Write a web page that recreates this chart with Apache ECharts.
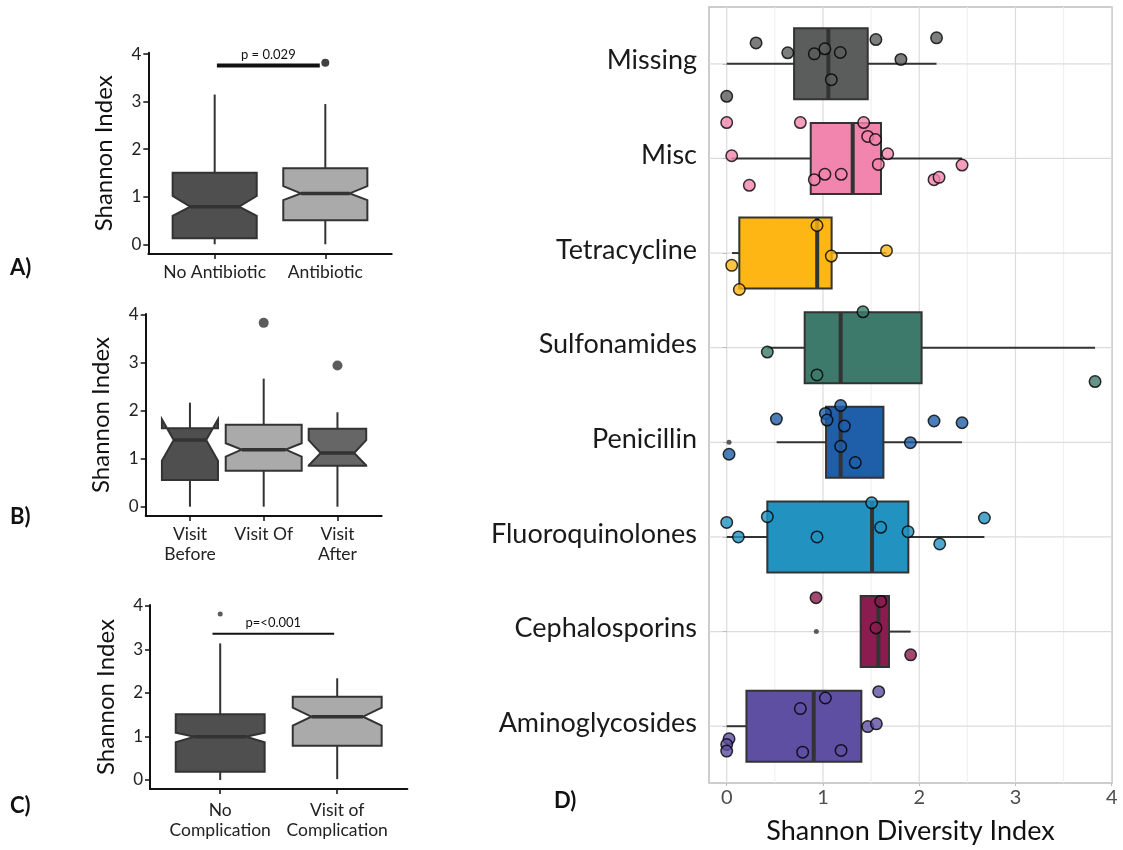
<!DOCTYPE html>
<html><head><meta charset="utf-8">
<script src="https://cdn.jsdelivr.net/npm/echarts@6/dist/echarts.min.js"></script>
<style>html,body{margin:0;padding:0;background:#fff}#c{width:1123px;height:850px}</style>
</head><body><div id="c"></div>
<script>
// ---------- Panel A ----------
const catsA = ['No Antibiotic', 'Antibiotic'];
// [whiskerLow, q1, notchLow, median, notchHigh, q3, whiskerHigh]
const boxA = [
  [0, 0.126, 0.60, 0.79, 1.015, 1.504, 3.15],
  [0, 0.504, 0.93, 1.07, 1.225, 1.597, 2.95]
];
const outA = [[2, 3.82]];
const sigA = [[1.02, 1.95, 3.76, 'p = 0.029']];

// ---------- Panel B ----------
const catsB = ['Visit\nBefore', 'Visit Of', 'Visit\nAfter'];
const boxB = [
  [0, 0.557, 0.96, 1.392, 1.824, 1.637, 2.17],
  [0, 0.752, 1.044, 1.19, 1.323, 1.712, 2.672],
  [0, 0.856, 0.86, 1.12, 1.39, 1.628, 1.97]
];
const outB = [[2, 3.835], [3, 2.944]];

// ---------- Panel C ----------
const catsC = ['No\nComplication', 'Visit of\nComplication'];
const boxC = [
  [0, 0.192, 0.866, 0.996, 1.087, 1.51, 3.14],
  [0.02, 0.789, 1.249, 1.456, 1.663, 1.915, 2.338]
];
const outC = [[1, 3.816]];
const sigC = [[0.934, 1.974, 3.363, 'p=<0.001']];

const yTicksABC = [0, 1, 2, 3, 4];

// ---------- Panel D ----------
const catsD = ['Missing', 'Misc', 'Tetracycline', 'Sulfonamides', 'Penicillin', 'Fluoroquinolones', 'Cephalosporins', 'Aminoglycosides'];
// [whiskerLow, q1, median, q3, whiskerHigh]
const statsD = [
  [0.0, 0.70, 1.056, 1.465, 2.18],
  [0.05, 0.873, 1.309, 1.603, 2.445],
  [0.055, 0.131, 0.94, 1.09, 1.66],
  [0.422, 0.81, 1.184, 2.025, 3.827],
  [0.519, 1.032, 1.184, 1.628, 2.445],
  [0.0, 0.422, 1.51, 1.887, 2.677],
  [1.392, 1.392, 1.576, 1.686, 1.911],
  [0.0, 0.205, 0.904, 1.399, 1.399]
];
const outD = [[5, 0.024], [7, 0.931]];
// observed values per category and their vertical jitter (category units)
const ptsD = [
  [0.305, 0.634, 0.91, 1.02, 1.18, 1.087, 1.55, 1.81, 2.18, 0.0],
  [0.0, 0.052, 0.235, 0.765, 0.91, 1.02, 1.19, 1.423, 1.465, 1.545, 1.673, 1.575, 2.154, 2.206, 2.445],
  [0.938, 1.087, 1.66, 0.052, 0.131],
  [1.416, 0.422, 0.938, 3.827],
  [0.516, 1.025, 1.042, 1.184, 1.222, 1.184, 1.336, 1.908, 2.154, 2.445, 0.024],
  [0.0, 0.121, 0.422, 0.938, 1.506, 1.6, 1.884, 2.213, 2.677],
  [0.928, 1.6, 1.551, 1.911],
  [1.579, 1.025, 0.765, 1.465, 1.555, 0.024, 0.0, 0.0, 0.789, 1.188]
];
const jitD = [
  [-0.22, -0.116, -0.105, -0.158, -0.119, 0.168, -0.256, -0.046, -0.274, 0.344],
  [-0.379, -0.028, 0.284, -0.379, 0.225, 0.168, 0.168, -0.379, -0.232, -0.2, -0.049, 0.063, 0.225, 0.2, 0.07],
  [-0.291, 0.032, -0.025, 0.13, 0.385],
  [-0.379, 0.046, 0.288, 0.358],
  [-0.246, -0.305, -0.235, -0.389, -0.172, 0.042, 0.214, 0.004, -0.225, -0.207, 0.126],
  [-0.154, 0.0, -0.214, 0.0, -0.361, -0.102, -0.056, 0.074, -0.2],
  [-0.358, -0.319, -0.039, 0.246],
  [-0.365, -0.298, -0.186, 0.004, -0.025, 0.133, 0.193, 0.263, 0.274, 0.256]
];
const xTicksD = [0, 1, 2, 3, 4];
const xMinorD = [0.5, 1.5, 2.5, 3.5];

// ---------- styles ----------
const FONT = 'Lato';
const colorsA = ['#4f4f4f', '#aaaaaa'];
const colorsB = ['#4f4f4f', '#aaaaaa', '#666666'];
const colorsC = ['#4f4f4f', '#aaaaaa'];
const widthsA = [0.76, 0.76];
const widthsB = [0.76, 1.03, 0.78];
const widthsC = [0.76, 0.76];
const colorsD = ['#5b5d5c', '#f285ad', '#fdb614', '#3e7a6b', '#1f5ea8', '#2292c1', '#8b1c4f', '#5e4fa2'];
const EDGE = '#333333';

function notchSeries(idx, boxes, colors, widths) {
  return {
    type: 'custom', xAxisIndex: idx, yAxisIndex: idx, z: 2,
    encode: { x: 0, y: [1, 2, 3, 4, 5, 6, 7] },
    data: boxes.map((b, i) => [i + 1].concat(b)),
    renderItem: function (params, api) {
      const i = api.value(0);
      const wl = api.value(1), q1 = api.value(2), nl = api.value(3), md = api.value(4),
            nh = api.value(5), q3 = api.value(6), wh = api.value(7);
      const hw = widths[params.dataIndex] / 2;
      const ind = hw * 0.42;
      const xl = i - hw, xr = i + hw;
      const P = (x, y) => api.coord([x, y]);
      const poly = [P(xl, q1), P(xl, nl), P(xl + ind, md), P(xl, nh), P(xl, q3),
                    P(xr, q3), P(xr, nh), P(xr - ind, md), P(xr, nl), P(xr, q1)];
      const a = P(i, wl), b = P(i, q1), c = P(i, q3), d = P(i, wh);
      const m1 = P(xl + ind, md), m2 = P(xr - ind, md);
      return {
        type: 'group', children: [
          { type: 'line', shape: { x1: a[0], y1: a[1], x2: b[0], y2: b[1] }, style: { stroke: EDGE, lineWidth: 2 } },
          { type: 'line', shape: { x1: c[0], y1: c[1], x2: d[0], y2: d[1] }, style: { stroke: EDGE, lineWidth: 2 } },
          { type: 'polygon', shape: { points: poly }, style: { fill: colors[params.dataIndex], stroke: EDGE, lineWidth: 2, lineJoin: 'miter' } },
          { type: 'line', shape: { x1: m1[0], y1: m1[1], x2: m2[0], y2: m2[1] }, style: { stroke: EDGE, lineWidth: 3.5 } }
        ]
      };
    }
  };
}

function sigSeries(idx, sig, lw) {
  return {
    type: 'custom', xAxisIndex: idx, yAxisIndex: idx, z: 3,
    data: sig.map(s => [s[0], s[2], s[1]]),
    renderItem: function (params, api) {
      const p1 = api.coord([api.value(0), api.value(1)]);
      const p2 = api.coord([api.value(2), api.value(1)]);
      return {
        type: 'group', children: [
          { type: 'line', shape: { x1: p1[0], y1: p1[1], x2: p2[0], y2: p2[1] }, style: { stroke: '#111', lineWidth: lw } },
          { type: 'text', x: (p1[0] + p2[0]) / 2, y: p1[1] - 4, style: { text: sig[params.dataIndex][3], fontFamily: FONT, fontSize: 13, fill: '#111', align: 'center', verticalAlign: 'bottom' } }
        ]
      };
    }
  };
}

function outSeries(idx, pts, size, color) {
  return { type: 'scatter', xAxisIndex: idx, yAxisIndex: idx, z: 3, symbolSize: size, silent: true,
    itemStyle: { color: color }, data: pts };
}

function xAxisCat(idx, cats, lineH, margin) {
  const ticks = cats.map((c, i) => i + 1);
  return {
    gridIndex: idx, type: 'value', min: 0.4, max: cats.length + 0.6,
    axisLine: { show: true, onZero: false, lineStyle: { color: '#111', width: 2 } },
    axisTick: { show: true, customValues: ticks, length: 5, lineStyle: { color: '#111', width: 1.5 } },
    axisLabel: { customValues: ticks, formatter: v => cats[Math.round(v) - 1], fontFamily: FONT, fontSize: 17.5, color: '#222', margin: margin, lineHeight: lineH },
    splitLine: { show: false }
  };
}
function yAxisABC(idx, min, max) {
  return {
    gridIndex: idx, type: 'value', min: min, max: max,
    name: 'Shannon Index', nameLocation: 'middle', nameGap: 32,
    nameTextStyle: { fontFamily: FONT, fontSize: 24, color: '#111' },
    axisLine: { show: true, onZero: false, lineStyle: { color: '#111', width: 2 } },
    axisTick: { show: true, customValues: yTicksABC, length: 5, lineStyle: { color: '#111', width: 1.5 } },
    axisLabel: { customValues: yTicksABC, fontFamily: FONT, fontSize: 17, color: '#222', margin: 7 },
    splitLine: { show: false }
  };
}

// Panel D series
const boxDSeries = {
  type: 'custom', xAxisIndex: 3, yAxisIndex: 3, z: 2,
  encode: { x: [1, 2, 3, 4, 5], y: 0 },
  data: statsD.map((s, i) => [i + 1].concat(s)),
  renderItem: function (params, api) {
    const pos = api.value(0);
    const wl = api.value(1), q1 = api.value(2), md = api.value(3), q3 = api.value(4), wh = api.value(5);
    const P = (x, y) => api.coord([x, y]);
    const tl = P(q1, pos - 0.375), br = P(q3, pos + 0.375);
    const a = P(wl, pos), b = P(q1, pos), c = P(q3, pos), d = P(wh, pos);
    const m1 = P(md, pos - 0.375), m2 = P(md, pos + 0.375);
    return {
      type: 'group', children: [
        { type: 'line', shape: { x1: a[0], y1: a[1], x2: b[0], y2: b[1] }, style: { stroke: EDGE, lineWidth: 2 } },
        { type: 'line', shape: { x1: c[0], y1: c[1], x2: d[0], y2: d[1] }, style: { stroke: EDGE, lineWidth: 2 } },
        { type: 'rect', shape: { x: tl[0], y: tl[1], width: br[0] - tl[0], height: br[1] - tl[1] }, style: { fill: colorsD[params.dataIndex], stroke: EDGE, lineWidth: 2 } },
        { type: 'line', shape: { x1: m1[0], y1: m1[1], x2: m2[0], y2: m2[1] }, style: { stroke: EDGE, lineWidth: 4 } }
      ]
    };
  }
};

const ptData = [];
ptsD.forEach((arr, i) => arr.forEach((v, k) => {
  ptData.push({ value: [v, i + 1 + jitD[i][k]], itemStyle: { color: colorsD[i] } });
}));

function gridLineSeries(vals, vertical, color, width) {
  return {
    type: 'custom', xAxisIndex: 3, yAxisIndex: 3, z: 0, silent: true,
    data: vals.map(v => vertical ? [v, 1] : [0, v]),
    renderItem: function (params, api) {
      const cs = params.coordSys;
      const p = api.coord([api.value(0), api.value(1)]);
      const shape = vertical ? { x1: p[0], y1: cs.y, x2: p[0], y2: cs.y + cs.height }
                             : { x1: cs.x, y1: p[1], x2: cs.x + cs.width, y2: p[1] };
      return { type: 'line', shape: shape, style: { stroke: color, lineWidth: width } };
    }
  };
}

const catTicksD = catsD.map((c, i) => i + 1);

const option = {
  animation: false,
  backgroundColor: '#ffffff',
  grid: [
    { left: 148.3, right: 731.3, top: 52.7, bottom: 596 },
    { left: 145.7, right: 741.3, top: 314, bottom: 334 },
    { left: 150, right: 715.6, top: 605, bottom: 61 },
    { left: 709, right: 11, top: 7, bottom: 66, show: true, borderColor: '#bdbdbd', borderWidth: 1.5, backgroundColor: 'transparent' }
  ],
  xAxis: [
    xAxisCat(0, catsA, 18, 9),
    xAxisCat(1, catsB, 20, 8),
    xAxisCat(2, catsC, 20, 11),
    {
      gridIndex: 3, type: 'value', min: -0.184, max: 4.003,
      name: 'Shannon Diversity Index', nameLocation: 'middle', nameGap: 35,
      nameTextStyle: { fontFamily: FONT, fontSize: 27, color: '#111' },
      axisLine: { show: false },
      axisTick: { show: true, customValues: xTicksD, length: 3, lineStyle: { color: '#bdbdbd' } },
      axisLabel: { customValues: xTicksD, fontFamily: FONT, fontSize: 20, color: '#4d4d4d', margin: 5 },
      splitLine: { show: false }
    }
  ],
  yAxis: [
    yAxisABC(0, -0.204, 4.03),
    yAxisABC(1, -0.194, 4.02),
    yAxisABC(2, -0.207, 4.023),
    {
      gridIndex: 3, type: 'value', min: 0.4, max: 8.6, inverse: true,
      axisLine: { show: false },
      axisTick: { show: true, customValues: catTicksD, length: 4, lineStyle: { color: '#bdbdbd' } },
      axisLabel: { customValues: catTicksD, formatter: v => catsD[Math.round(v) - 1], fontFamily: FONT, fontSize: 27, color: '#1a1a1a', margin: 12, lineHeight: 6, verticalAlign: 'bottom' },
      splitLine: { show: false }
    }
  ],
  graphic: [
    { type: 'text', left: 10, top: 257, style: { text: 'A)', fontFamily: FONT, fontSize: 22, fontWeight: 'bold', fill: '#111' } },
    { type: 'text', left: 10, top: 506, style: { text: 'B)', fontFamily: FONT, fontSize: 22, fontWeight: 'bold', fill: '#111' } },
    { type: 'text', left: 10, top: 795, style: { text: 'C)', fontFamily: FONT, fontSize: 22, fontWeight: 'bold', fill: '#111' } },
    { type: 'text', left: 554, top: 790, style: { text: 'D)', fontFamily: FONT, fontSize: 22, fontWeight: 'bold', fill: '#111' } }
  ],
  series: [
    notchSeries(0, boxA, colorsA, widthsA),
    outSeries(0, outA, 8, '#111'),
    sigSeries(0, sigA, 4),
    notchSeries(1, boxB, colorsB, widthsB),
    outSeries(1, outB, 10, '#333'),
    notchSeries(2, boxC, colorsC, widthsC),
    outSeries(2, outC, 5, '#333'),
    sigSeries(2, sigC, 2),
    gridLineSeries(xMinorD, true, '#efefef', 1),
    gridLineSeries(xTicksD, true, '#dcdcdc', 1.2),
    gridLineSeries(catTicksD, false, '#dcdcdc', 1.2),
    boxDSeries,
    { type: 'scatter', xAxisIndex: 3, yAxisIndex: 3, z: 4, silent: true, data: outD.map(o => [o[1], o[0]]), symbolSize: 5, itemStyle: { color: '#333' } },
    { type: 'scatter', xAxisIndex: 3, yAxisIndex: 3, z: 5, silent: true, data: ptData, symbolSize: 11.5,
      itemStyle: { borderColor: '#000', borderWidth: 1.5 } }
  ]
};

const chart = echarts.init(document.getElementById('c'), null, { renderer: 'canvas' });
chart.setOption(option);
</script>
</body></html>
